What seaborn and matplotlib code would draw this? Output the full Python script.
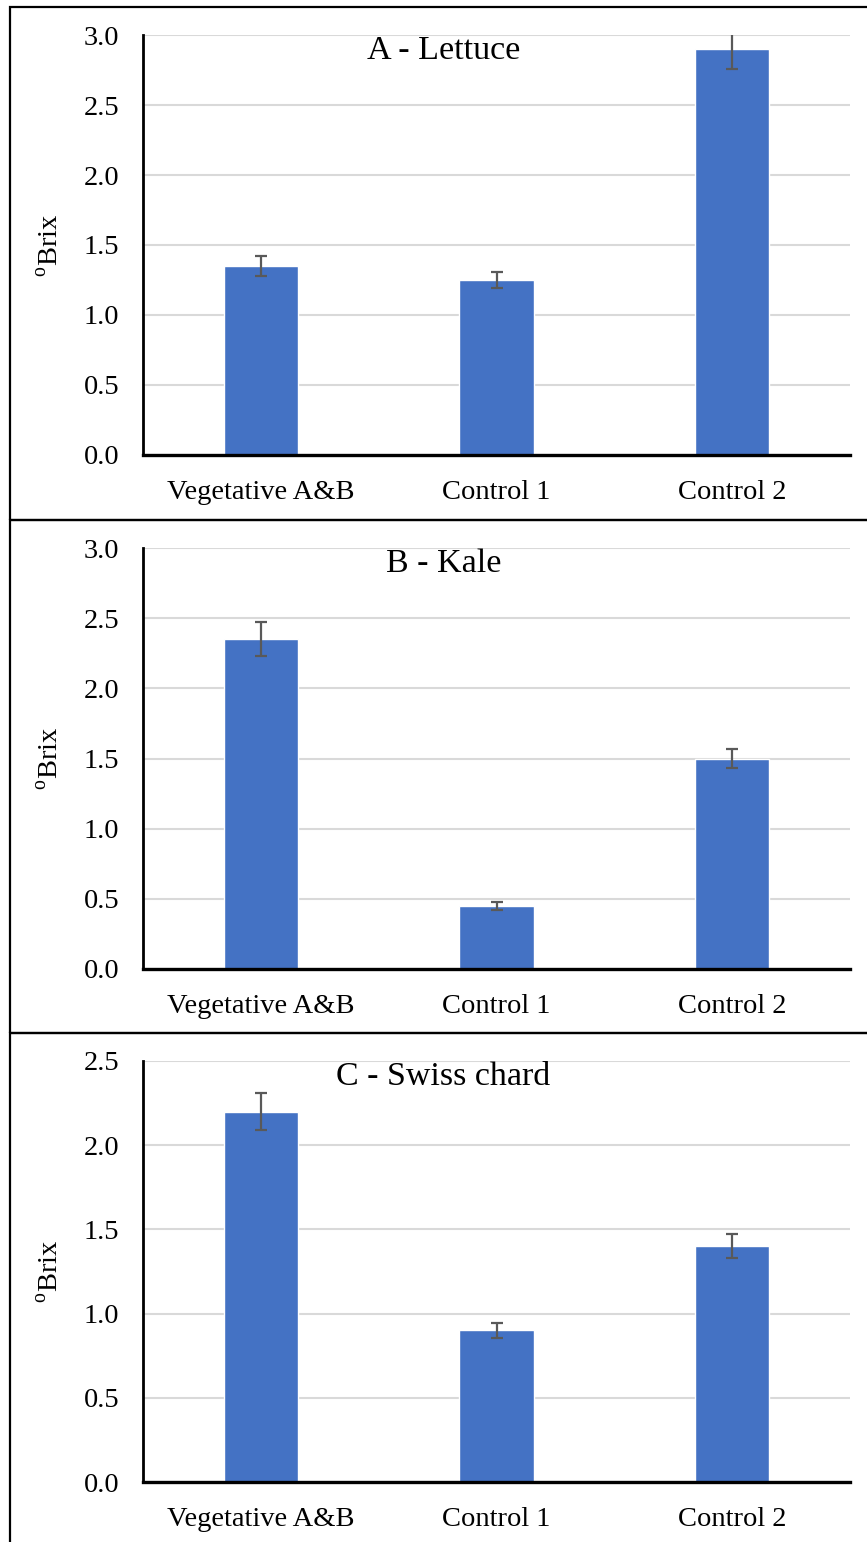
import seaborn as sns
import matplotlib.pyplot as plt
from matplotlib.patches import Rectangle

categories = ["Vegetative A&B", "Control 1", "Control 2"]

lettuce = [1.35, 1.25, 2.90]
lettuce_err = [0.07, 0.06, 0.14]

kale = [2.35, 0.45, 1.50]
kale_err = [0.12, 0.03, 0.07]

chard = [2.20, 0.90, 1.40]
chard_err = [0.11, 0.045, 0.07]

panels = [
    ("A - Lettuce", lettuce, lettuce_err, 3.0),
    ("B - Kale", kale, kale_err, 3.0),
    ("C - Swiss chard", chard, chard_err, 2.5),
]

sns.set_style("white")
plt.rcParams["font.family"] = ["Liberation Serif", "DejaVu Serif"]
plt.rcParams["mathtext.fontset"] = "custom"
plt.rcParams["mathtext.rm"] = "Liberation Serif"
plt.rcParams["text.color"] = "black"
plt.rcParams["axes.labelcolor"] = "black"
plt.rcParams["xtick.color"] = "black"
plt.rcParams["ytick.color"] = "black"

W, H = 867, 1542
fig = plt.figure(figsize=(W / 100, H / 100), dpi=100)

# axes boxes in pixels: (top of y axis, bottom of y axis)
ax_px = [(35, 455), (548, 969), (1061, 1482)]
frame_px = [(7, 520), (520, 1033), (1033, 1545)]
left_px, right_px = 143, 850

for (title, vals, errs, ymax), (top, bot), (ftop, fbot) in zip(panels, ax_px, frame_px):
    # panel frame
    fig.add_artist(Rectangle((10 / W, 1 - fbot / H), 1.0, (fbot - ftop) / H,
                             transform=fig.transFigure, fill=False,
                             edgecolor="black", linewidth=1.6, clip_on=False))

    ax = fig.add_axes([left_px / W, 1 - bot / H, (right_px - left_px) / W, (bot - top) / H])
    sns.barplot(x=categories, y=vals, color="#4472C4", saturation=1, width=0.315, ax=ax)
    ax.errorbar(range(len(categories)), vals, yerr=errs, fmt="none",
                ecolor="#595959", elinewidth=1.6, capsize=4, capthick=1.6, zorder=5)

    ax.set_ylim(0, ymax)
    ax.set_xlim(-0.5, 2.5)
    ax.set_yticks([i * 0.5 for i in range(int(ymax / 0.5) + 1)])
    ax.set_yticklabels([f"{t:.1f}" for t in ax.get_yticks()], fontsize=20.5)
    ax.tick_params(axis="y", direction="in", length=5, width=1.5, color="black", pad=17)
    ax.tick_params(axis="x", length=0, pad=18, labelsize=20.5)
    ax.yaxis.grid(True, color="#d9d9d9", linewidth=1.5)
    ax.set_axisbelow(True)
    for s in ["top", "right"]:
        ax.spines[s].set_visible(False)
    ax.spines["left"].set_linewidth(2)
    ax.spines["bottom"].set_linewidth(2.4)
    ax.spines["left"].set_color("black")
    ax.spines["bottom"].set_color("black")

    ax.text(0.425, 0.962, title, transform=ax.transAxes, ha="center", va="center", fontsize=24.5)
    ax.set_ylabel(r"$^{\mathrm{o}}$Brix", fontsize=20.5, labelpad=14)

fig.savefig("out.png", dpi=100)
